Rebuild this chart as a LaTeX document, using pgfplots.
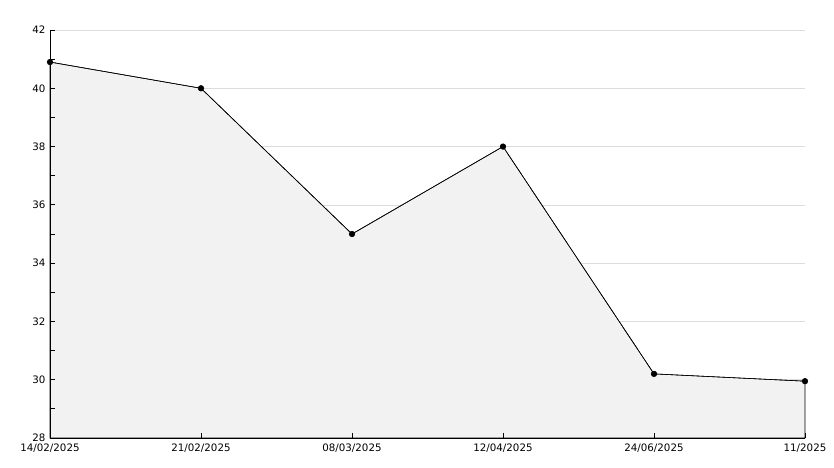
\documentclass[border=0pt]{standalone}
\usepackage{pgfplots}
\pgfplotsset{compat=1.18}
\usepackage{fontspec}
\setmainfont{DejaVu Sans}
\definecolor{areafill}{HTML}{F2F2F2}
\definecolor{gridc}{HTML}{DCDCDC}
\begin{document}
\begin{tikzpicture}
\path[use as bounding box] (-50bp,-30bp) rectangle (784bp,438bp);
\begin{axis}[
  at={(0,0)}, anchor=south west,
  scale only axis, width=755bp, height=408bp,
  xmin=0, xmax=5, ymin=28, ymax=42,
  axis lines*=left, axis line style={black, line width=1pt},
  axis on top,
  xtick={0,1,2,3,4,5},
  xticklabels={14/02/2025,21/02/2025,08/03/2025,12/04/2025,24/06/2025,11/2025},
  ytick={28,30,...,42},
  minor ytick={29,31,...,41},
  tick align=inside,
  major tick length=5bp, minor tick length=5bp,
  tick style={black, line width=0.8pt},
  tick label style={font=\fontsize{10.3}{12}\selectfont, text=black},
  /pgf/number format/assume math mode=true,
  yticklabel style={xshift=-1bp},
  xticklabel style={yshift=-2bp},
  clip=false,
]
% horizontal grid lines (behind the area)
\addplot[gridc, line width=0.7pt, forget plot] coordinates {(0,30) (5,30)};
\addplot[gridc, line width=0.7pt, forget plot] coordinates {(0,32) (5,32)};
\addplot[gridc, line width=0.7pt, forget plot] coordinates {(0,34) (5,34)};
\addplot[gridc, line width=0.7pt, forget plot] coordinates {(0,36) (5,36)};
\addplot[gridc, line width=0.7pt, forget plot] coordinates {(0,38) (5,38)};
\addplot[gridc, line width=0.7pt, forget plot] coordinates {(0,40) (5,40)};
\addplot[gridc, line width=0.7pt, forget plot] coordinates {(0,42) (5,42)};
\addplot[fill=areafill, draw=black, line width=0.6pt] coordinates {
(0,40.9) (1,40.0) (2,35.0) (3,38.0) (4,30.2) (5,29.95)
} \closedcycle;
\addplot[black, line width=0.6pt, mark=*, mark size=2.8bp] coordinates {
(0,40.9) (1,40.0) (2,35.0) (3,38.0) (4,30.2) (5,29.95)
};
\end{axis}
\end{tikzpicture}
\end{document}
